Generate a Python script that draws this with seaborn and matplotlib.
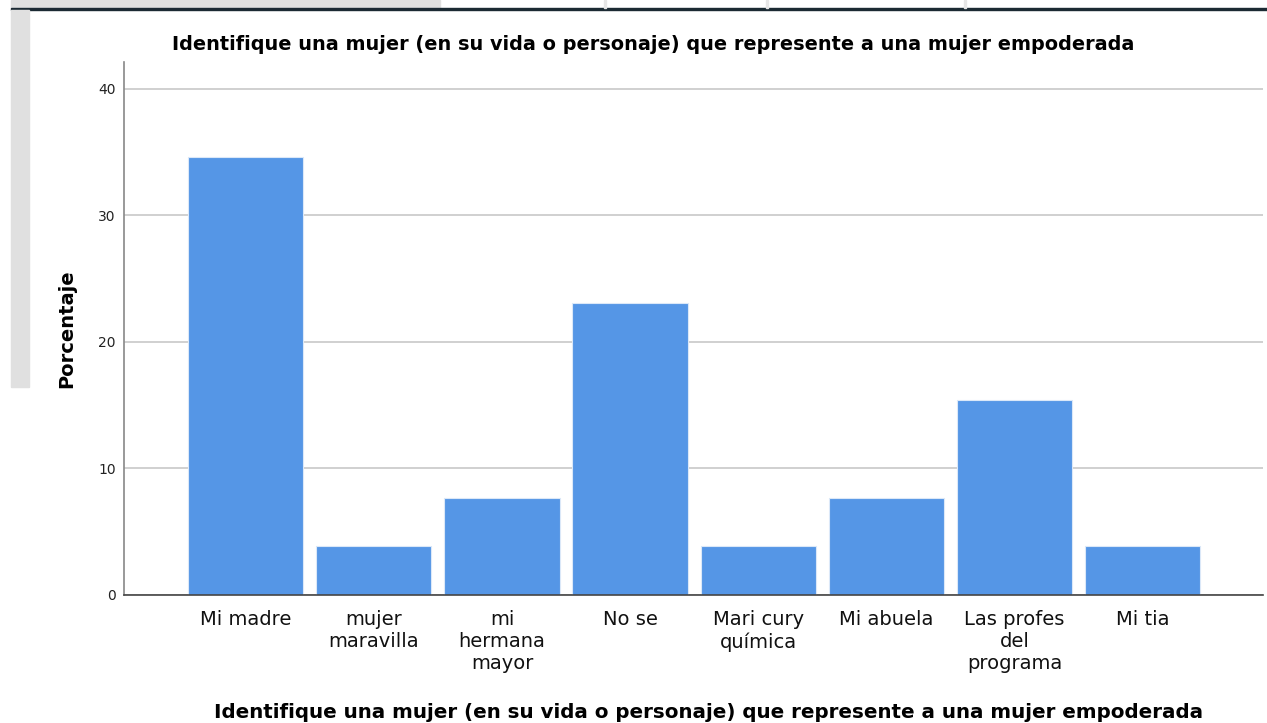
import numpy as np
import pandas as pd
import matplotlib
matplotlib.use("Agg")
import matplotlib.pyplot as plt
import seaborn as sns

# respuestas (porcentaje, n = 26)
categorias = ["Mi madre", "mujer\nmaravilla", "mi\nhermana\nmayor", "No se",
              "Mari cury\nquímica", "Mi abuela", "Las profes\ndel\nprograma", "Mi tia"]
porcentaje = [34.62, 3.85, 7.69, 23.08, 3.85, 7.69, 15.38, 3.85]
y_ticks = [0, 10, 20, 30, 40]

titulo = "Identifique una mujer (en su vida o personaje) que represente a una mujer empoderada"

df = pd.DataFrame({"cat": categorias, "pct": porcentaje})

sns.set_theme(style="white")
plt.rcParams["font.family"] = ["DejaVu Sans"]

fig = plt.figure(figsize=(12.67, 7.23), dpi=100)
ax = fig.add_axes([124 / 1267, 1 - 595 / 723, (1263 - 124) / 1267, (595 - 62) / 723])

ax.set_axisbelow(True)
ax.yaxis.grid(True, color="#c8c8c8", linewidth=1.2)
sns.barplot(data=df, x="cat", y="pct", color="#5596e6", saturation=1,
            width=0.9, edgecolor="#dbe8f8", linewidth=0.8, ax=ax)

ax.set_xlim(-0.95, 7.94)
ax.set_ylim(0, 42.1)
ax.set_yticks(y_ticks)
ax.tick_params(axis="y", labelsize=10, length=0, pad=6, colors="#222222")
ax.tick_params(axis="x", labelsize=14, length=0, pad=11, colors="#111111")
for lbl in ax.get_xticklabels():
    lbl.set_linespacing(1.2)

for s in ["top", "right"]:
    ax.spines[s].set_visible(False)
ax.spines["left"].set_color("#888888")
ax.spines["left"].set_linewidth(1.2)
ax.spines["bottom"].set_color("#444444")
ax.spines["bottom"].set_linewidth(1.2)

ax.set_xlabel("")
ax.set_ylabel("Porcentaje", fontsize=14, fontweight="bold", labelpad=16, color="black")

fig.text(653 / 1267, 1 - 45 / 723, titulo, ha="center", va="center",
         fontsize=13.9, fontweight="bold", color="black")
fig.text(709 / 1267, 1 - 712 / 723, titulo, ha="center", va="center",
         fontsize=14.35, fontweight="bold", color="black")

# marco de la ventana
fig.patches.append(plt.Rectangle((11 / 1267, 1 - 8 / 723), 429 / 1267, 8 / 723,
                                 transform=fig.transFigure, color="#e0e0e0"))
fig.patches.append(plt.Rectangle((11 / 1267, 1 - 10 / 723), 1256 / 1267, 2.5 / 723,
                                 transform=fig.transFigure, color="#1b2a33"))
fig.patches.append(plt.Rectangle((11 / 1267, 1 - 387 / 723), 18 / 1267, 377 / 723,
                                 transform=fig.transFigure, color="#e0e0e0"))
for xv in [604, 766, 964]:
    fig.patches.append(plt.Rectangle((xv / 1267, 1 - 8 / 723), 2 / 1267, 8 / 723,
                                     transform=fig.transFigure, color="#e6e6e6"))

fig.savefig("out.png", dpi=100)
